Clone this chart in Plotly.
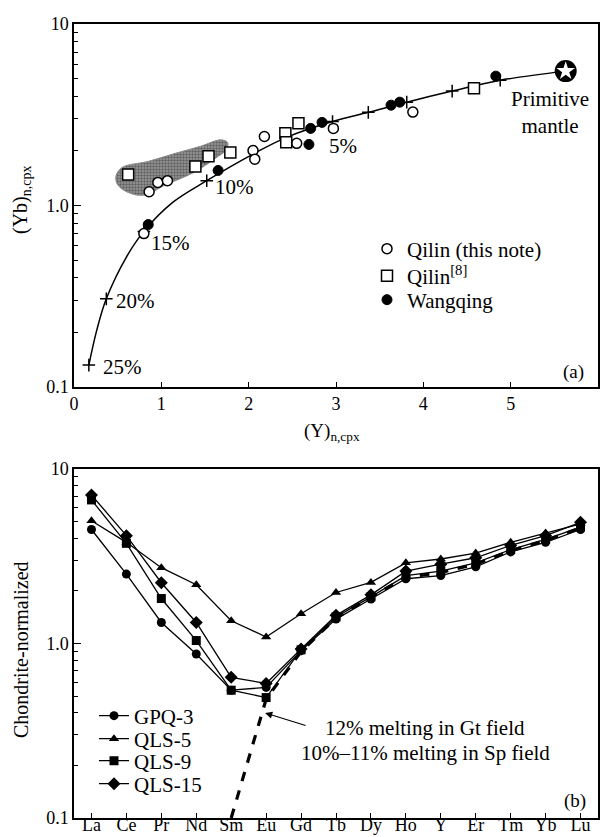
import numpy as np
import plotly.graph_objects as go

# ---------------- Panel (a) data ----------------
# melting curve, F% labels
curve_x = [0.17, 0.26, 0.37, 0.60, 0.80, 1.13, 1.52, 2.05, 2.44, 2.96, 3.37, 3.81, 4.33, 4.88, 5.63]
curve_y = [0.132, 0.205, 0.306, 0.52, 0.72, 1.04, 1.37, 1.92, 2.38, 2.90, 3.26, 3.71, 4.27, 4.90, 5.50]
tick_x = [0.17, 0.37, 0.80, 1.52, 2.96, 3.37, 3.81, 4.33, 4.88]
tick_y = [0.132, 0.306, 0.72, 1.37, 2.90, 3.26, 3.71, 4.27, 4.90]
pct_labels = ["25%", "20%", "15%", "10%", "5%"]
pct_x = [0.55, 0.70, 1.10, 1.84, 3.08]
pct_y = [0.129, 0.299, 0.624, 1.257, 2.12]

pm_x = [5.63]
pm_y = [5.50]

qilin_note_x = [0.80, 0.86, 0.96, 1.07, 2.05, 2.07, 2.18, 2.55, 2.97, 3.88]
qilin_note_y = [0.70, 1.19, 1.34, 1.37, 2.01, 1.80, 2.40, 2.20, 2.66, 3.27]

qilin8_x = [0.62, 1.39, 1.54, 1.79, 2.42, 2.43, 2.57, 4.58]
qilin8_y = [1.48, 1.64, 1.87, 1.96, 2.50, 2.23, 2.84, 4.43]

wangqing_x = [0.85, 1.65, 2.69, 2.71, 2.84, 3.63, 3.73, 4.83]
wangqing_y = [0.785, 1.56, 2.17, 2.66, 2.87, 3.57, 3.71, 5.16]

# shaded field outline
field_x = [0.48, 0.55, 0.85, 1.18, 1.45, 1.68, 1.76, 1.74, 1.62, 1.37, 1.05, 0.80, 0.62, 0.50, 0.48]
field_y = [1.45, 1.62, 1.75, 1.95, 2.12, 2.30, 2.22, 2.02, 1.82, 1.52, 1.30, 1.14, 1.18, 1.30, 1.45]

# ---------------- Panel (b) data ----------------
ree = ["La", "Ce", "Pr", "Nd", "Sm", "Eu", "Gd", "Tb", "Dy", "Ho", "Y", "Er", "Tm", "Yb", "Lu"]
gpq3 = [4.5, 2.5, 1.32, 0.87, 0.54, 0.56, 0.91, 1.38, 1.80, 2.35, 2.45, 2.75, 3.35, 3.80, 4.50]
qls5 = [5.05, 3.8, 2.72, 2.17, 1.35, 1.09, 1.48, 1.96, 2.24, 2.90, 3.05, 3.30, 3.80, 4.30, 4.85]
qls9 = [6.65, 3.75, 1.81, 1.04, 0.54, 0.49, 0.92, 1.42, 1.85, 2.45, 2.60, 2.90, 3.45, 3.95, 4.65]
qls15 = [7.1, 4.15, 2.23, 1.32, 0.64, 0.59, 0.93, 1.45, 1.90, 2.60, 2.85, 3.10, 3.65, 4.15, 4.95]
model_ree = ["Sm", "Eu", "Gd", "Tb", "Dy", "Ho", "Y", "Er", "Tm", "Yb", "Lu"]
model = [0.1, 0.48, 0.90, 1.40, 1.85, 2.40, 2.55, 2.85, 3.40, 3.90, 4.60]

FONT = "Liberation Serif"
TXT = 21
TICK = 18
W, H = 600, 837

def px(x):
    return x / W

def py(y):
    return 1 - y / H

fig = go.Figure()

# ---- panel (a) traces ----
fig.add_trace(go.Scatter(x=field_x, y=field_y, mode="lines", fill="toself",
                         fillcolor="#8a8a8a", line=dict(color="#888888", width=1, shape="spline"),
                         fillpattern=dict(shape=".", fgcolor="#2a2a2a", bgcolor="#999999",
                                          size=3, solidity=0.5),
                         showlegend=False, xaxis="x", yaxis="y", hoverinfo="skip"))
fig.add_trace(go.Scatter(x=curve_x, y=curve_y, mode="lines", line=dict(color="black", width=1.5, shape="spline"),
                         showlegend=False, xaxis="x", yaxis="y"))
fig.add_trace(go.Scatter(x=tick_x, y=tick_y, mode="markers",
                         marker=dict(symbol="cross-thin", size=9, line=dict(color="black", width=1.5)),
                         showlegend=False, xaxis="x", yaxis="y"))
fig.add_trace(go.Scatter(x=qilin_note_x, y=qilin_note_y, mode="markers", name="Qilin (this note)",
                         marker=dict(symbol="circle", size=10, color="white", line=dict(color="black", width=1.5)),
                         xaxis="x", yaxis="y", legend="legend"))
fig.add_trace(go.Scatter(x=qilin8_x, y=qilin8_y, mode="markers", name="Qilin<sup>[8]</sup>",
                         marker=dict(symbol="square", size=11, color="white", line=dict(color="black", width=1.5)),
                         xaxis="x", yaxis="y", legend="legend2"))
fig.add_trace(go.Scatter(x=wangqing_x, y=wangqing_y, mode="markers", name="Wangqing",
                         marker=dict(symbol="circle", size=10, color="black", line=dict(color="black", width=1)),
                         xaxis="x", yaxis="y", legend="legend3"))
fig.add_trace(go.Scatter(x=pm_x, y=pm_y, mode="markers",
                         marker=dict(symbol="circle", size=22, color="black"),
                         showlegend=False, xaxis="x", yaxis="y"))
fig.add_trace(go.Scatter(x=pm_x, y=pm_y, mode="markers",
                         marker=dict(symbol="star", size=14, color="white", line=dict(width=0)),
                         showlegend=False, xaxis="x", yaxis="y"))

# ---- panel (b) traces ----
fig.add_trace(go.Scatter(x=model_ree, y=model, mode="lines", line=dict(color="black", width=3.2, dash="dash"),
                         showlegend=False, xaxis="x2", yaxis="y2"))
series_b = [("GPQ-3", gpq3, "circle", "legend4"), ("QLS-5", qls5, "triangle-up", "legend5"),
            ("QLS-9", qls9, "square", "legend6"), ("QLS-15", qls15, "diamond", "legend7")]
for name, vals, sym, lg in series_b:
    fig.add_trace(go.Scatter(x=ree, y=vals, mode="lines+markers", name=name,
                             line=dict(color="black", width=1.3),
                             marker=dict(symbol=sym, size=9 if sym != "diamond" else 10, color="black"),
                             xaxis="x2", yaxis="y2", legend=lg))

axis_common = dict(showline=True, linecolor="black", linewidth=1.5, mirror=True,
                   ticks="inside", tickcolor="black", showgrid=False, zeroline=False,
                   tickfont=dict(family=FONT, size=TICK, color="black"))

minor_vals = [0.2, 0.3, 0.4, 0.5, 0.6, 0.7, 0.8, 0.9, 2, 3, 4, 5, 6, 7, 8, 9]


def leg(xp, yp):
    return dict(x=px(xp), y=py(yp), xanchor="left", yanchor="middle", bgcolor="rgba(0,0,0,0)",
                font=dict(family=FONT, size=TXT, color="black"), itemwidth=30, borderwidth=0)


fig.update_layout(
    width=W, height=H, margin=dict(l=0, r=0, t=0, b=0, autoexpand=False),
    paper_bgcolor="white", plot_bgcolor="white",
    font=dict(family=FONT, size=TXT, color="black"),
    xaxis=dict(domain=[px(74), px(598)], range=[0, 6], tickvals=[0, 1, 2, 3, 4, 5, 6],
               ticklen=5, anchor="y", **axis_common),
    yaxis=dict(domain=[py(387), py(24)], type="log", range=[-1, 1],
               tickvals=[0.1, 1, 10], ticktext=["0.1", "1.0", "10"], ticklen=7,
               minor=dict(ticks="inside", ticklen=4, tickcolor="black", tickvals=minor_vals),
               anchor="x", **axis_common),
    xaxis2=dict(domain=[px(74), px(598)], range=[-0.5, 14.5], type="category",
                categoryorder="array", categoryarray=ree, ticklen=5, anchor="y2",
                ticklabelstandoff=-10, **axis_common),
    yaxis2=dict(domain=[py(818), py(469)], type="log", range=[-1, 1],
                tickvals=[0.1, 1, 10], ticktext=["0.1", "1.0", "10"], ticklen=7,
                minor=dict(ticks="inside", ticklen=4, tickcolor="black", tickvals=minor_vals),
                anchor="x2", **axis_common),
    legend=leg(367, 249),
    legend2=leg(367, 276),
    legend3=leg(367, 300),
    legend4=leg(94, 716),
    legend5=leg(94, 739),
    legend6=leg(94, 761),
    legend7=leg(94, 784),
)


def pa(text, x, y, size=TXT, angle=0):
    return dict(x=px(x), y=py(y), xref="paper", yref="paper", text=text, showarrow=False,
                xanchor="center", yanchor="middle", textangle=angle,
                font=dict(family=FONT, size=size))


ann = []
for t, x, y in zip(pct_labels, pct_x, pct_y):
    ann.append(dict(x=x, y=np.log10(y), xref="x", yref="y", text=t, showarrow=False,
                    font=dict(family=FONT, size=TXT), xanchor="center", yanchor="middle"))
ann.append(dict(x=5.45, y=np.log10(3.26), xref="x", yref="y", text="Primitive<br>mantle",
                showarrow=False, font=dict(family=FONT, size=TXT), align="center",
                xanchor="center", yanchor="middle"))
ann.append(pa("(a)", 573, 372, TICK + 1))
ann.append(pa("(b)", 575, 801, TICK + 1))
ann.append(pa("(Y)<sub>n,cpx</sub>", 332, 432, TICK + 1))
ann.append(pa("(Yb)<sub>n,cpx</sub>", 21, 200, TICK + 2, -90))
ann.append(pa("Chondrite-normalized", 21, 650, TICK + 2, -90))
ann.append(dict(x=4.97, y=np.log10(0.40), xref="x2", yref="y2", ax=42, ay=13, text="",
                showarrow=True, arrowhead=2, arrowsize=1.2, arrowwidth=1.2, arrowcolor="black"))
ann.append(pa("12% melting in Gt field", 425, 728))
ann.append(pa("10%\u201311% melting in Sp field", 425, 753))
fig.update_layout(annotations=ann)

fig.write_html("out.html", config={"displayModeBar": False},
               post_script="document.body.style.margin='0';document.body.style.overflow='hidden';")
